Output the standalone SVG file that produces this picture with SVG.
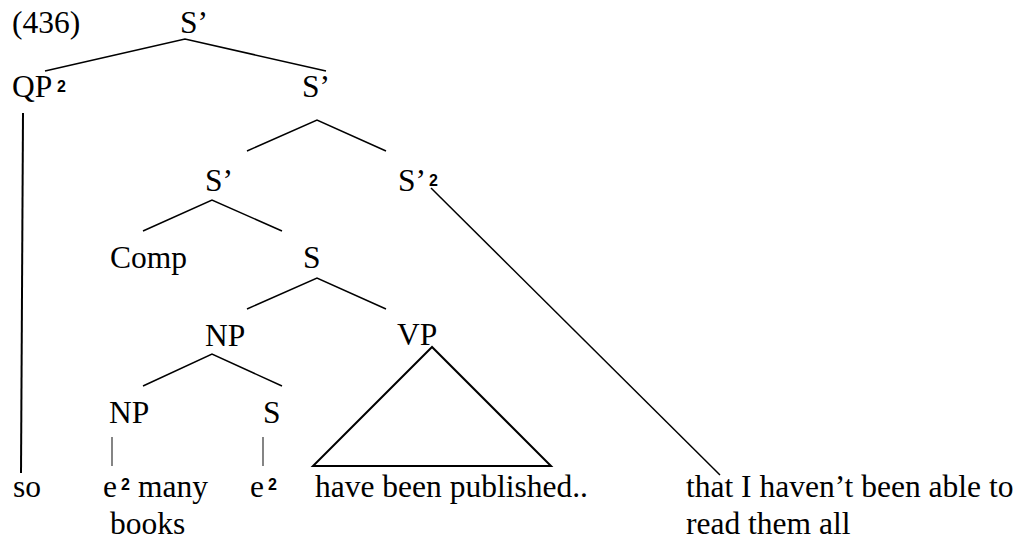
<svg xmlns="http://www.w3.org/2000/svg" width="1026" height="541" viewBox="0 0 1026 541">
<style>
text{font-family:"Liberation Serif","Times New Roman",serif;font-size:31.5px;fill:#000}
text.sup{font-family:"Liberation Sans",Arial,sans-serif;font-size:16px;font-weight:bold}
line,polyline,polygon{stroke:#000;fill:none;stroke-width:1.5}
.thick{stroke-width:2}
.thin{stroke-width:1.2;stroke:#333}
</style>
<rect width="1026" height="541" fill="#fff"/>
<g id="connectors">
<polyline points="45,71 185,39 326,71"/>
<line class="thick" x1="23" y1="113" x2="21" y2="473"/>
<polyline points="247,151 317,120 386,151"/>
<polyline points="143,231 212,200 282,231"/>
<line x1="431" y1="188" x2="720" y2="475"/>
<polyline points="247,309 317,278 386,309"/>
<polyline points="143,386 212,354 282,386"/>
<polygon class="thick" points="432,347 313,466 551,466"/>
<line class="thin" x1="112" y1="437" x2="112" y2="466"/>
<line class="thin" x1="263" y1="437" x2="263" y2="466"/>
</g>
<g id="label-436"><text x="12" y="33">(436)</text></g>
<g id="node-Sbar-top"><text x="180" y="33">S’</text></g>
<g id="node-QP"><text x="12" y="97">QP</text><text class="sup" x="57" y="92">2</text></g>
<g id="node-Sbar-2"><text x="302" y="97">S’</text></g>
<g id="node-Sbar-3"><text x="205" y="191">S’</text></g>
<g id="node-Sbar-4"><text x="398" y="191">S’</text><text class="sup" x="429" y="186">2</text></g>
<g id="node-Comp"><text x="110" y="268">Comp</text></g>
<g id="node-S"><text x="303" y="268">S</text></g>
<g id="node-NP-upper"><text x="205" y="346">NP</text></g>
<g id="node-VP"><text x="397" y="345">VP</text></g>
<g id="node-NP-lower"><text x="109" y="423">NP</text></g>
<g id="node-S-lower"><text x="263" y="423">S</text></g>
<g id="leaf-so"><text x="13" y="497">so</text></g>
<g id="leaf-e-many"><text x="103" y="497">e</text><text class="sup" x="121" y="490">2</text><text x="138" y="497">many</text><text x="110" y="534">books</text></g>
<g id="leaf-e"><text x="250" y="497">e</text><text class="sup" x="268" y="490">2</text></g>
<g id="leaf-published"><text x="315" y="497">have been published..</text></g>
<g id="leaf-that"><text x="686" y="497">that I haven’t been able to</text><text x="686" y="534">read them all</text></g>
</svg>
